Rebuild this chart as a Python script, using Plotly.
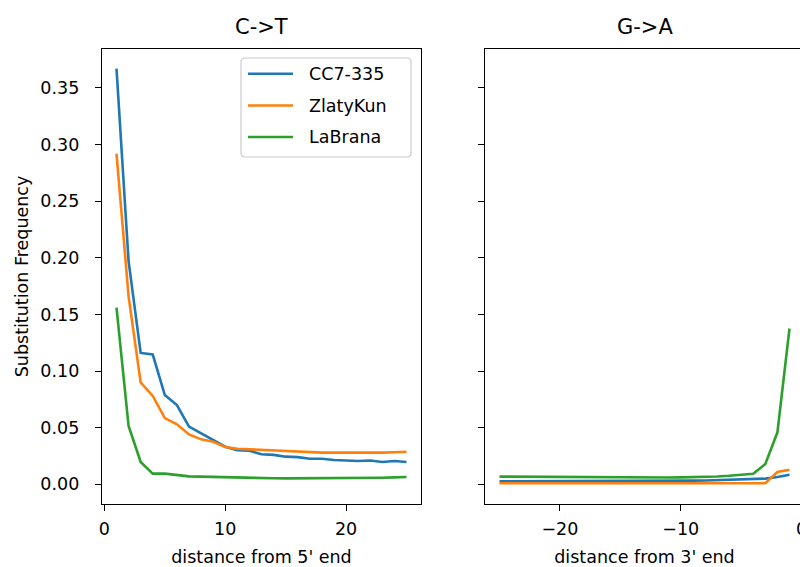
import plotly.graph_objects as go
from plotly.subplots import make_subplots

samples = ["CC7-335", "ZlatyKun", "LaBrana"]
colors = ["#1f77b4", "#ff7f0e", "#2ca02c"]

pos5 = list(range(1, 26))
pos3 = list(range(-25, 0))

ct_cc7 = [0.367, 0.197, 0.116, 0.1146, 0.0788, 0.070, 0.0509, 0.045, 0.039, 0.0332,
          0.030, 0.0297, 0.0265, 0.026, 0.0244, 0.024, 0.0226, 0.0226, 0.0215, 0.021,
          0.0206, 0.021, 0.0197, 0.0206, 0.0197]
ct_zlaty = [0.292, 0.166, 0.090, 0.078, 0.0585, 0.053, 0.044, 0.0397, 0.0376, 0.033,
            0.0314, 0.0309, 0.030, 0.0297, 0.029, 0.0288, 0.0285, 0.028, 0.028, 0.0279,
            0.0279, 0.0279, 0.028, 0.0283, 0.0288]
ct_labrana = [0.156, 0.0515, 0.0197, 0.0094, 0.0094, 0.0085, 0.007, 0.0068, 0.0065, 0.0059,
              0.0056, 0.0054, 0.0053, 0.0053, 0.0052, 0.0052, 0.0053, 0.0053, 0.0053, 0.0054,
              0.0055, 0.0056, 0.0058, 0.0061, 0.0064]

ga_cc7 = [0.0026, 0.0026, 0.0026, 0.0026, 0.0026, 0.0026, 0.0026, 0.0027, 0.0027, 0.0027,
          0.0027, 0.0028, 0.0028, 0.0029, 0.0029, 0.0031, 0.0032, 0.0034, 0.0036, 0.0039,
          0.0044, 0.0047, 0.005, 0.0065, 0.0085]
ga_zlaty = [0.0009, 0.0009, 0.0009, 0.0009, 0.0009, 0.0009, 0.0009, 0.0009, 0.0009, 0.0009,
            0.0009, 0.0009, 0.0009, 0.0009, 0.0009, 0.0009, 0.0009, 0.0009, 0.0009, 0.0009,
            0.0009, 0.0009, 0.0009, 0.0109, 0.0129]
ga_labrana = [0.0068, 0.0067, 0.0066, 0.0065, 0.0064, 0.0063, 0.0062, 0.0062, 0.0061, 0.0061,
              0.0060, 0.0060, 0.0060, 0.0060, 0.0060, 0.0061, 0.0062, 0.0065, 0.0069, 0.0075,
              0.0085, 0.0093, 0.0179, 0.0459, 0.1376]

titles = ["C->T", "G->A"]
xlabels = ["distance from 5' end", "distance from 3' end"]
ylabel = "Substitution Frequency"
yticks = [0.00, 0.05, 0.10, 0.15, 0.20, 0.25, 0.30, 0.35]

FONT = "DejaVu Sans"
OFF = 8  # page body margin
W, H = 808 - OFF, 567 - OFF
ML, MR, MT, MB = 102 - OFF, 4, 49 - OFF, 63
PW, PH = W - ML - MR, H - MT - MB


def px(xs):
    return (xs - OFF - ML) / PW


def py(ys):
    return (H - MB - (ys - OFF)) / PH


fig = make_subplots(rows=1, cols=2, shared_yaxes=False)

for i, (name, ys) in enumerate(zip(samples, [ct_cc7, ct_zlaty, ct_labrana])):
    fig.add_trace(go.Scatter(x=pos5, y=ys, mode="lines", name=name, showlegend=False,
                             line=dict(color=colors[i], width=2.6)), row=1, col=1)
for i, (name, ys) in enumerate(zip(samples, [ga_cc7, ga_zlaty, ga_labrana])):
    fig.add_trace(go.Scatter(x=pos3, y=ys, mode="lines", name=name, showlegend=False,
                             line=dict(color=colors[i], width=2.6)), row=1, col=2)

axis_common = dict(showline=True, linecolor="black", linewidth=1.4, mirror=True,
                   ticks="outside", ticklen=6, tickwidth=1.4, tickcolor="black",
                   showgrid=False, zeroline=False, automargin=False,
                   ticklabeloverflow="allow",
                   tickfont=dict(family=FONT, size=17.5, color="black"))

fig.update_xaxes(**axis_common)
fig.update_yaxes(**axis_common)
fig.update_xaxes(ticklabelstandoff=3)
fig.update_yaxes(ticklabelstandoff=12)
fig.update_xaxes(range=[-0.2, 26.2], tickvals=[0, 10, 20], row=1, col=1,
                 title=dict(text=xlabels[0], font=dict(family=FONT, size=17.5, color="black"), standoff=13))
fig.update_xaxes(range=[-26.2, 0.2], tickvals=[-20, -10, 0], ticktext=["\u221220", "\u221210", "0"],
                 row=1, col=2,
                 title=dict(text=xlabels[1], font=dict(family=FONT, size=17.5, color="black"), standoff=13))
fig.update_yaxes(range=[-0.0174, 0.3844], tickvals=yticks, tickformat=".2f", row=1, col=1,
                 title=dict(text=ylabel, font=dict(family=FONT, size=17.5, color="black"), standoff=7))
fig.update_yaxes(range=[-0.0174, 0.3844], tickvals=yticks, showticklabels=False, row=1, col=2)

d1 = [px(102), px(421)]
d2 = [px(485), px(804)]
fig.update_layout(xaxis=dict(domain=d1), xaxis2=dict(domain=d2))

for dom, t in zip([d1, d2], titles):
    fig.add_annotation(text=t, x=(dom[0] + dom[1]) / 2, y=1, xref="paper", yref="paper",
                       xanchor="center", yanchor="bottom", yshift=8, showarrow=False,
                       font=dict(family=FONT, size=21, color="black"))

# legend drawn in the upper-right corner of the first panel
x0, x1, y0, y1, r = 241, 411, 58, 157, 4
path = (f"M {px(x0 + r)},{py(y0)} L {px(x1 - r)},{py(y0)} Q {px(x1)},{py(y0)} {px(x1)},{py(y0 + r)} "
        f"L {px(x1)},{py(y1 - r)} Q {px(x1)},{py(y1)} {px(x1 - r)},{py(y1)} "
        f"L {px(x0 + r)},{py(y1)} Q {px(x0)},{py(y1)} {px(x0)},{py(y1 - r)} "
        f"L {px(x0)},{py(y0 + r)} Q {px(x0)},{py(y0)} {px(x0 + r)},{py(y0)} Z")
fig.add_shape(type="path", path=path, xref="paper", yref="paper",
              line=dict(color="#cccccc", width=1.2), fillcolor="rgba(255,255,255,0.8)", layer="above")
entry_y = [73.7, 105.5, 137.0]
for name, c, ey in zip(samples, colors, entry_y):
    fig.add_shape(type="line", xref="paper", yref="paper", x0=px(248), x1=px(293),
                  y0=py(ey), y1=py(ey), line=dict(color=c, width=2.6), layer="above")
    fig.add_annotation(text=name, x=px(307), y=py(ey), xref="paper", yref="paper",
                       xanchor="left", yanchor="middle", showarrow=False,
                       font=dict(family=FONT, size=17.5, color="black"))

fig.update_layout(
    width=W, height=H,
    margin=dict(l=ML, r=MR, t=MT, b=MB),
    plot_bgcolor="white", paper_bgcolor="white",
    font=dict(family=FONT, size=17.5, color="black"),
    showlegend=False,
)

fig.write_html("out.html")
